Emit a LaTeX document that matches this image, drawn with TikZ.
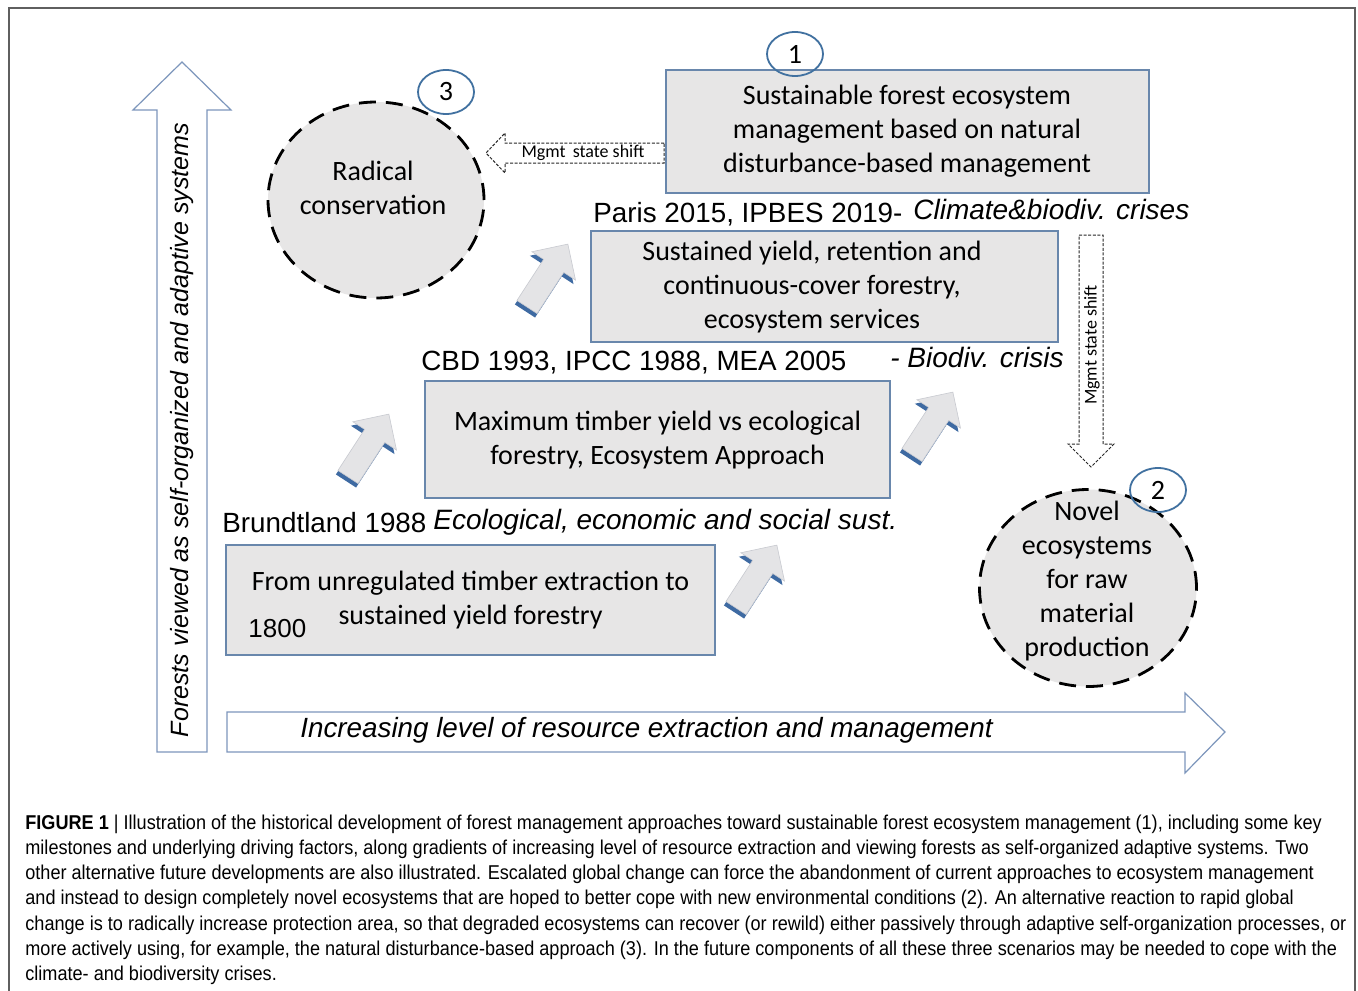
\documentclass[tikz,border=0pt]{standalone}
\usepackage{fontspec}
\setmainfont{Carlito}
\newfontfamily\arialf{Liberation Sans}
\newfontfamily\capf[FakeStretch=0.905]{Liberation Sans}
\usetikzlibrary{shapes.geometric}

\definecolor{boxfill}{RGB}{231,230,230}
\definecolor{boxline}{RGB}{105,135,172}
\definecolor{numline}{RGB}{65,113,160}
\definecolor{bigarrow}{RGB}{125,150,188}
\definecolor{shadowblue}{RGB}{62,106,162}
\definecolor{arrowfill}{RGB}{228,228,230}
\definecolor{arrowedge}{RGB}{200,202,208}
\definecolor{framegray}{RGB}{95,95,95}

\tikzset{
  stagebox/.style={draw=boxline, fill=boxfill, line width=0.75pt, inner sep=0pt},
  boxtext/.style={align=center, font=\fontsize{14}{17}\selectfont},
  ringnode/.style={ellipse, draw=black, fill=boxfill, line width=1.4pt,
    dash pattern=on 8.5pt off 5pt, inner sep=0pt},
  numnode/.style={ellipse, draw=numline, line width=0.9pt, inner sep=0pt,
    minimum width=28pt, minimum height=22pt, font=\fontsize{14}{16}\selectfont},
  axisarrow/.style={draw=bigarrow, fill=white, line width=0.6pt},
  axistext/.style={font=\arialf\itshape\fontsize{12.5}{14}\selectfont},
  shiftarrow/.style={draw=black!85, line width=0.5pt, dash pattern=on 1.5pt off 0.8pt},
  shifttext/.style={font=\fontsize{9}{11}\selectfont},
  milestone/.style={anchor=base west, inner sep=0pt, font=\arialf\fontsize{13.9}{15}\selectfont},
  driver/.style={anchor=base west, inner sep=0pt, font=\arialf\itshape\fontsize{14}{16}\selectfont},
  capline/.style={anchor=base west, inner sep=0pt, font=\capf\fontsize{10}{12}\selectfont},
}

% a slanted block arrow with a blue drop shadow; #1,#2 = centre of its tail
\newcommand\blockarrow[2]{%
  \fill[shadowblue, shift={(#1-2,#2+4)}, rotate=57]
    (0,-12) -- (49,-12) -- (49,-26) -- (75,0) -- (49,26) -- (49,12) -- (0,12) -- cycle;
  \filldraw[fill=arrowfill, draw=arrowedge, line width=0.3pt, shift={(#1,#2)}, rotate=57]
    (0,-12) -- (49,-12) -- (49,-26) -- (75,0) -- (49,26) -- (49,12) -- (0,12) -- cycle;}

\begin{document}
\begin{tikzpicture}[x=0.5pt,y=-0.5pt]
\useasboundingbox (0,0) rectangle (1358,990);
\fill[white] (0,0) rectangle (1358,990);
\draw[framegray, line width=0.8pt] (9,1000) -- (9,8) -- (1355,8) -- (1355,1000);

% axes
\draw[axisarrow] (157,752) -- (157,110) -- (133,110) -- (182,62) -- (231,110)
  -- (207,110) -- (207,752) -- cycle;
\node[axistext, rotate=90] (vaxis) at (182,430)
  {Forests viewed as self-organized and adaptive systems};
\draw[axisarrow] (227,712) -- (1185,712) -- (1185,693) -- (1225,732) -- (1185,773)
  -- (1185,752) -- (227,752) -- cycle;
\node[axistext, font=\arialf\itshape\fontsize{13.9}{15}\selectfont] (haxis) at (646.5,730)
  {Increasing level of resource extraction and management};

% stages of management
\node[stagebox, minimum width=244.5pt, minimum height=55pt] (s1800) at (470.5,600) {};
\node[boxtext] (s1800t) at (470.5,600)
  {From unregulated timber extraction to\\ sustained yield forestry};
\node[milestone, font=\arialf\fontsize{13}{15}\selectfont] (y1800) at (248,637) {1800};

\node[stagebox, minimum width=232.5pt, minimum height=58.5pt] (smax) at (657.5,439.5) {};
\node[boxtext] (smaxt) at (657.5,440)
  {Maximum timber yield vs ecological\\ forestry, Ecosystem Approach};

\node[stagebox, minimum width=233.5pt, minimum height=55.5pt] (ssy) at (824.5,286.5) {};
\node[boxtext] (ssyt) at (812,287)
  {Sustained yield, retention and\\ continuous-cover forestry,\\ ecosystem services};

\node[stagebox, minimum width=241.5pt, minimum height=61.5pt] (ssfm) at (907.5,131.5) {};
\node[boxtext] (ssfmt) at (907,131.5)
  {Sustainable forest ecosystem\\ management based on natural\\ disturbance-based management};

% milestones and drivers
\node[milestone] (brund) at (222,532) {Brundtland 1988};
\node[driver] (sust) at (433,529) {Ecological, economic and social sust.};
\node[milestone] (cbd) at (421,370) {CBD 1993, IPCC 1988, MEA 2005};
\node[driver] (biod) at (890,367) {- Biodiv. crisis};
\node[milestone] (paris) at (593,222) {Paris 2015, IPBES 2019-};
\node[driver] (clim) at (913,219) {Climate\&biodiv. crises};

% transitions
\blockarrow{736}{608}
\blockarrow{348}{477}
\blockarrow{912}{455}
\blockarrow{527}{307}

% alternative futures
\node[ringnode, minimum width=108pt, minimum height=98pt] (radical) at (376,200) {};
\node[boxtext] (radicalt) at (373,188) {Radical\\ conservation};
\node[ringnode, minimum width=108.5pt, minimum height=98.5pt] (novel) at (1088,588) {};
\node[boxtext] (novelt) at (1087,581)
  {Novel\\ ecosystems\\ for raw\\ material\\ production};

\draw[shiftarrow, fill=white] (664,143) -- (505,143) -- (505,133) -- (486,153) -- (505,173)
  -- (505,163) -- (664,163) -- cycle;
\node[shifttext] (shiftl) at (583,153) {Mgmt\, state shift};
\draw[shiftarrow, fill=white] (1079,235) -- (1103,235) -- (1103,444) -- (1114,444)
  -- (1091,467) -- (1068,444) -- (1079,444) -- cycle;
\node[shifttext, rotate=90] (shiftd) at (1092,345) {Mgmt state shift};

% scenario numbers
\node[numnode] (n1) at (795,54) {1};
\node[numnode] (n3) at (446,92) {3};
\node[numnode] (n2) at (1158,490) {2};

% caption
\node[capline] (c1) at (25,829) {\textbf{FIGURE 1} | Illustration of the historical development of forest management approaches toward sustainable forest ecosystem management (1), including some key};
\node[capline] (c2) at (25,854.3) {milestones and underlying driving factors, along gradients of increasing level of resource extraction and viewing forests as self-organized adaptive systems. Two};
\node[capline] (c3) at (25,879.6) {other alternative future developments are also illustrated. Escalated global change can force the abandonment of current approaches to ecosystem management};
\node[capline] (c4) at (25,904.9) {and instead to design completely novel ecosystems that are hoped to better cope with new environmental conditions (2). An alternative reaction to rapid global};
\node[capline] (c5) at (25,930.2) {change is to radically increase protection area, so that degraded ecosystems can recover (or rewild) either passively through adaptive self-organization processes, or};
\node[capline] (c6) at (25,955.5) {more actively using, for example, the natural disturbance-based approach (3). In the future components of all these three scenarios may be needed to cope with the};
\node[capline] (c7) at (25,980.8) {climate- and biodiversity crises.};
\end{tikzpicture}
\end{document}
